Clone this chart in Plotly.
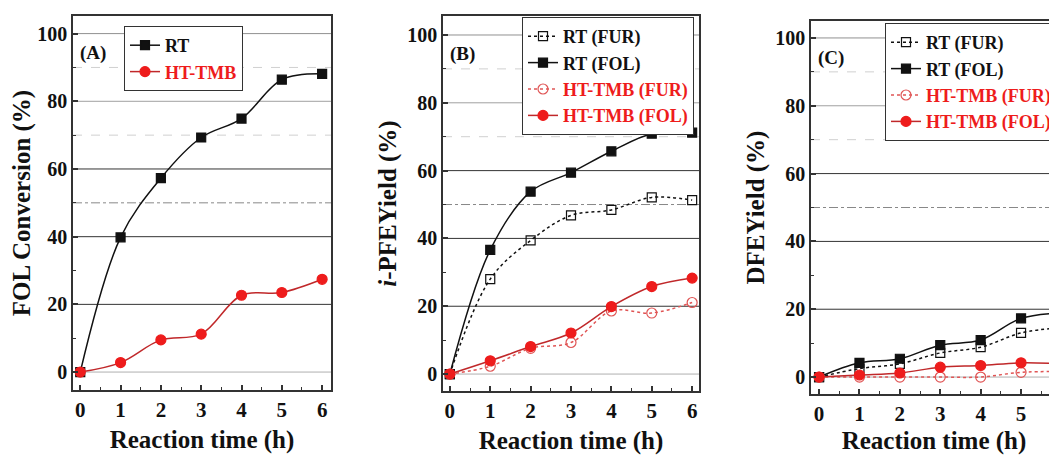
import plotly.graph_objects as go

# ---------------- data ----------------
HOURS = [0, 1, 2, 3, 4, 5, 6]

# Panel A: FOL conversion (%)
A_RT = [0, 39.8, 57.3, 69.3, 74.9, 86.4, 88.1]
A_HT = [0, 2.8, 9.5, 11.2, 22.7, 23.5, 27.4]

# Panel B: i-PFE yield (%)
B_RT_FUR = [0, 28.0, 39.4, 46.8, 48.4, 52.1, 51.3]
B_RT_FOL = [0, 36.6, 53.8, 59.4, 65.7, 70.9, 71.2]
B_HT_FUR = [0, 2.3, 7.6, 9.3, 18.6, 18.0, 21.1]
B_HT_FOL = [0, 3.9, 8.1, 12.1, 19.9, 25.8, 28.3]

# Panel C: DFE yield (%)
C_RT_FUR = [0, 2.5, 3.9, 7.1, 8.8, 13.0, 14.6]
C_RT_FOL = [0, 4.2, 5.4, 9.4, 10.9, 17.3, 18.9]
C_HT_FUR = [0, 0, 0, 0, 0, 1.4, 1.6]
C_HT_FOL = [0, 0.6, 1.2, 2.9, 3.4, 4.2, 3.9]

Y_TICKS = [0, 20, 40, 60, 80, 100]
X_TICKS = [0, 1, 2, 3, 4, 5, 6]
PANEL_LABELS = ["(A)", "(B)", "(C)"]
Y_TITLES = ["FOL Conversion (%)", "<i>i</i>-PFEYield (%)", "DFEYield (%)"]
X_TITLE = "Reaction time (h)"

# ---------------- styling ----------------
FONT = "Liberation Serif, Times New Roman, serif"
BLACK = "#111111"
RED = "#ee1c1c"
RED_LINE = "#c0282a"
RED_OPEN = "#e05555"
AX = "#333333"

def red(t):
    return f'<span style="color:{RED}">{t}</span>'

def b(t):
    return f"<b>{t}</b>"

fig = go.Figure()

def add(xa, ya, y, name, legend, symbol, mcolor, lcolor, dash, size):
    fig.add_trace(go.Scatter(
        x=HOURS, y=y, name=b(name), legend=legend,
        xaxis=xa, yaxis=ya, mode="lines+markers",
        line=dict(color=lcolor, width=1.5, dash=dash, shape="spline", smoothing=1.0),
        marker=dict(symbol=symbol, size=size, color=mcolor,
                    line=dict(color=mcolor, width=1.2)),
    ))

# Panel A
add("x", "y", A_RT, "RT", "legend", "square", BLACK, BLACK, "solid", 9)
add("x", "y", A_HT, red("HT-TMB"), "legend", "circle", RED, RED_LINE, "solid", 10)

# Panel B
add("x2", "y2", B_RT_FUR, "RT (FUR)", "legend2", "square-open", BLACK, BLACK, "dot", 9)
add("x2", "y2", B_RT_FOL, "RT (FOL)", "legend2", "square", BLACK, BLACK, "solid", 9)
add("x2", "y2", B_HT_FUR, red("HT-TMB (FUR)"), "legend2", "circle-open", RED_OPEN, RED_OPEN, "dot", 10)
add("x2", "y2", B_HT_FOL, red("HT-TMB (FOL)"), "legend2", "circle", RED, RED_LINE, "solid", 10)

# Panel C
add("x3", "y3", C_RT_FUR, "RT (FUR)", "legend3", "square-open", BLACK, BLACK, "dot", 9)
add("x3", "y3", C_RT_FOL, "RT (FOL)", "legend3", "square", BLACK, BLACK, "solid", 9)
add("x3", "y3", C_HT_FUR, red("HT-TMB (FUR)"), "legend3", "circle-open", RED_OPEN, RED_OPEN, "dot", 10)
add("x3", "y3", C_HT_FOL, red("HT-TMB (FOL)"), "legend3", "circle", RED, RED_LINE, "solid", 10)

# page has an 8px body margin: figure spans page px 8..1057 x 8..455
OFF = 8
W, H = 1057 - OFF, 455 - OFF

def px(p):
    return (p - OFF) / W

def py(p):
    return 1 - (p - OFF) / H

domains_x = [(px(73), px(331)), (px(443), px(699)), (px(811), 1.0)]
domains_y = [(py(390), py(16)), (py(391), py(16)), (py(394), py(21))]
x_ranges = [[-0.18, 6.22], [-0.17, 6.17], [-0.2, 5.89]]
y_ranges = [[-5.3, 105.2], [-5.0, 105.6], [-5.0, 105.0]]

tickfont_x = dict(family=FONT, size=21, color=BLACK)
tickfont_y = dict(family=FONT, size=20, color=BLACK)
titlefont = dict(family=FONT, size=25, color=BLACK)

layout = dict(
    width=W, height=H, autosize=False,
    margin=dict(l=0, r=0, t=0, b=0, autoexpand=False),
    paper_bgcolor="white", plot_bgcolor="white",
    font=dict(family=FONT, color=BLACK),
    showlegend=True,
)

for i in range(3):
    sx = "" if i == 0 else str(i + 1)
    layout[f"xaxis{sx}"] = dict(
        domain=list(domains_x[i]), range=x_ranges[i], anchor=f"y{sx}",
        tickvals=X_TICKS, ticktext=[b(v) for v in X_TICKS],
        ticks="inside", ticklen=5, tickwidth=1.5, tickcolor=AX,
        minor=dict(dtick=0.5, ticks="inside", ticklen=3, tickcolor=AX, tickwidth=1.2),
        showline=True, linecolor=AX, linewidth=1.5, mirror=True,
        showgrid=False, zeroline=False, tickfont=tickfont_x,
        title=dict(text=b(X_TITLE), font=titlefont, standoff=10),
    )
    layout[f"yaxis{sx}"] = dict(
        domain=list(domains_y[i]), range=y_ranges[i], anchor=f"x{sx}",
        tickvals=Y_TICKS, ticktext=[b(v) for v in Y_TICKS],
        ticks="inside", ticklen=5, tickwidth=1.5, tickcolor=AX,
        minor=dict(dtick=10, ticks="inside", ticklen=3, tickcolor=AX, tickwidth=1.2),
        showline=True, linecolor=AX, linewidth=1.5, mirror=(i < 2),
        showgrid=False, zeroline=False, tickfont=tickfont_y,
        title=dict(text=b(Y_TITLES[i]), font=titlefont, standoff=4),
    )

legend_common = dict(
    bgcolor="white", bordercolor=AX, borderwidth=1,
    font=dict(family=FONT, size=18, color=BLACK),
    xanchor="left", yanchor="top", itemwidth=30, tracegroupgap=0,
)
layout["legend"] = dict(legend_common, x=px(124), y=py(26))
layout["legend2"] = dict(legend_common, x=px(522), y=py(17))
layout["legend3"] = dict(legend_common, x=px(885), y=py(23))

fig.update_layout(**layout)

# gridlines (styling, matching the reference's mixed grid look)
GRID_SOLID = {0: "#b0b0b0", 20: "#333333", 40: "#333333", 60: "#333333", 80: "#a0a0a0", 100: "#909090"}
GRID_DASH = {50: ("#888888", "dashdot"), 70: ("#d0d0d0", "dash"), 90: ("#d0d0d0", "dash")}
for i in range(3):
    sx = "" if i == 0 else str(i + 1)
    for lvl, col in GRID_SOLID.items():
        fig.add_shape(type="line", xref=f"x{sx} domain", yref=f"y{sx}", x0=0, x1=1, y0=lvl, y1=lvl,
                      line=dict(color=col, width=1), layer="below")
    for lvl, (col, dash) in GRID_DASH.items():
        fig.add_shape(type="line", xref=f"x{sx} domain", yref=f"y{sx}", x0=0, x1=1, y0=lvl, y1=lvl,
                      line=dict(color=col, width=1, dash=dash), layer="below")
    fig.add_annotation(text=b(PANEL_LABELS[i]), xref=f"x{sx} domain", yref=f"y{sx} domain",
                       x=0.02, y=0.9, xanchor="left", yanchor="middle", showarrow=False,
                       font=dict(family=FONT, size=19, color=BLACK))

fig.write_html("out.html")
